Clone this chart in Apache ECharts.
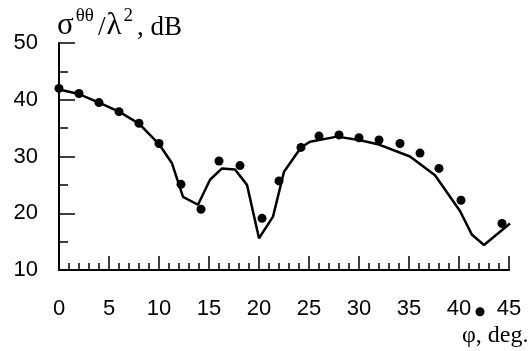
<!DOCTYPE html>
<html><head><meta charset="utf-8">
<script src="https://cdn.jsdelivr.net/npm/echarts@6/dist/echarts.min.js"></script>
<style>html,body{margin:0;padding:0;background:#fff}#c{width:532px;height:351px}</style>
</head><body><div id="c"></div>
<script>
// measured points (dots)
var dotX = [0, 2, 4, 6, 8, 10, 12.2, 14.2, 16, 18.1, 20.3, 22, 24.2, 26, 28, 30, 32, 34.1, 36.1, 38, 40.2, 42.1, 44.3];
var dotY = [42.0, 41.1, 39.5, 37.9, 35.85, 32.3, 25.1, 20.7, 29.2, 28.4, 19.1, 25.7, 31.6, 33.6, 33.8, 33.3, 32.9, 32.3, 30.6, 27.9, 22.3, 2.65, 18.2];
// calculated curve
var lineX = [0, 2, 4, 6, 8, 10, 11.3, 12.4, 13.9, 15.1, 16.3, 17.6, 18.8, 20, 21.4, 22.5, 24.2, 25.1, 27.8, 30, 32, 35.1, 37.6, 40.1, 41.3, 42.5, 45.1];
var lineY = [41.8, 41.0, 39.5, 37.9, 35.8, 32.2, 28.8, 22.9, 21.5, 25.9, 27.9, 27.7, 25.0, 15.6, 19.4, 27.3, 31.6, 32.6, 33.5, 32.9, 32.1, 30.0, 26.7, 20.4, 16.2, 14.4, 18.2];
var xTicks = [0, 5, 10, 15, 20, 25, 30, 35, 40, 45];
var yTicks = [10, 20, 30, 40, 50];

var chart = echarts.init(document.getElementById('c'), null, {renderer: 'canvas'});
var pair = function (xs, ys) { return xs.map(function (x, i) { return [x, ys[i]]; }); };
var sans = 'Liberation Sans, Arial, sans-serif';
var serif = 'Liberation Serif, Times New Roman, serif';
chart.setOption({
  animation: false,
  backgroundColor: '#fff',
  grid: {left: 59, right: 23, top: 43, bottom: 81},
  xAxis: {
    type: 'value', min: xTicks[0], max: xTicks[xTicks.length - 1], interval: 5,
    axisLine: {lineStyle: {color: '#000', width: 2}},
    axisTick: {inside: true, length: 14, lineStyle: {color: '#000', width: 1.5}},
    minorTick: {show: true, splitNumber: 5, length: 7, lineStyle: {color: '#000', width: 1.5}},
    axisLabel: {color: '#000', fontFamily: sans, fontSize: 22, margin: 28},
    splitLine: {show: false}
  },
  yAxis: {
    type: 'value', min: yTicks[0], max: yTicks[yTicks.length - 1], interval: 10,
    axisLine: {show: true, lineStyle: {color: '#000', width: 2}},
    axisTick: {show: true, inside: true, length: 16, lineStyle: {color: '#000', width: 1.5}},
    minorTick: {show: true, splitNumber: 2, length: 9, lineStyle: {color: '#000', width: 1.5}},
    axisLabel: {color: '#000', fontFamily: sans, fontSize: 22, margin: 21},
    splitLine: {show: false}
  },
  graphic: [
    {type: 'text', left: 56, top: 7, style: {
      text: '{g|σ}{s|θθ}{a|/}{g|λ}{s|2}{a|, dB}',
      rich: {
        a: {fontFamily: serif, fontSize: 27, fill: '#000', verticalAlign: 'bottom', lineHeight: 34, padding: [0, 0, 0, 2]},
        g: {fontFamily: serif, fontSize: 31, fill: '#000', verticalAlign: 'bottom', lineHeight: 34, padding: [0, 1, 0, 1]},
        s: {fontFamily: serif, fontSize: 19, fill: '#000', verticalAlign: 'top', lineHeight: 6, padding: [0, 2, 0, 1]}
      }
    }},
    {type: 'text', left: 462, top: 324, style: {text: 'φ, deg.', fontFamily: serif, fontSize: 24, fill: '#000'}}
  ],
  series: [
    {type: 'line', data: pair(lineX, lineY), symbol: 'none', lineStyle: {color: '#000', width: 2.5}, z: 3},
    {type: 'scatter', data: pair(dotX, dotY), symbolSize: 9, itemStyle: {color: '#000', opacity: 1}, clip: false, z: 4}
  ]
});
</script></body></html>
